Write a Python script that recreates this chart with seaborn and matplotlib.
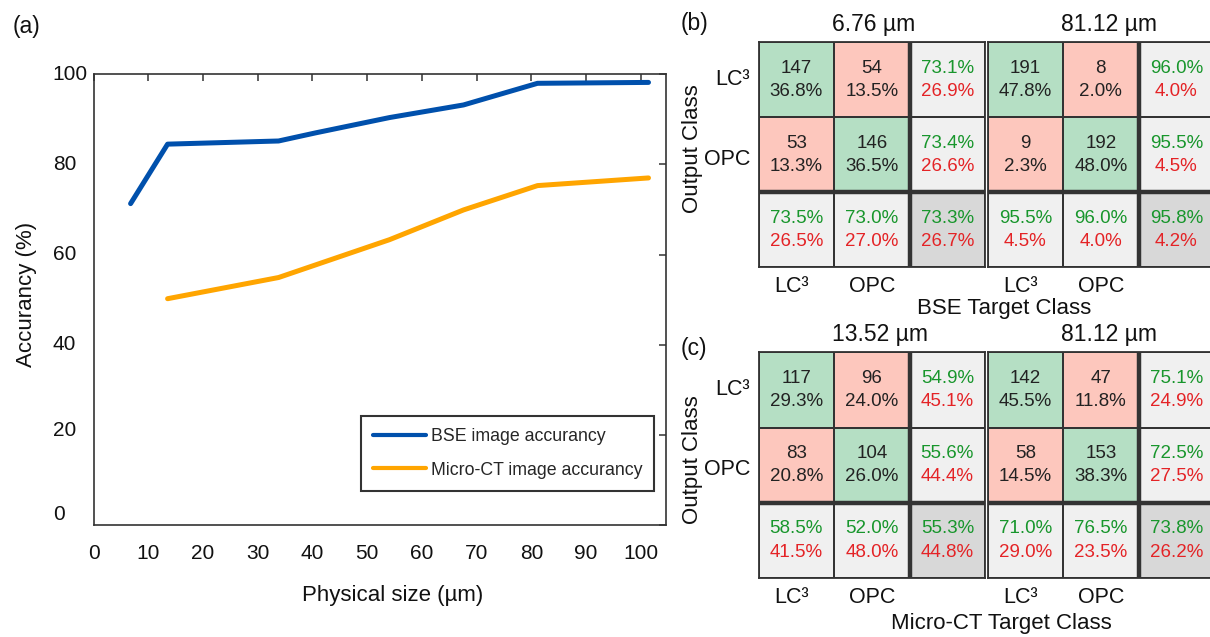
import numpy as np
import pandas as pd
import matplotlib
matplotlib.use("Agg")
import matplotlib.pyplot as plt
import matplotlib.transforms as mtransforms
import seaborn as sns
from matplotlib.colors import ListedColormap

# ---------------- data ----------------
size_bse = [6.76, 13.52, 33.8, 40.56, 54.08, 67.6, 81.12, 101.4]
acc_bse = [71.3, 84.5, 85.2, 87.0, 90.4, 93.2, 98.0, 98.2]
size_ct = [13.52, 33.8, 40.56, 54.08, 67.6, 81.12, 101.4]
acc_ct = [50.2, 54.9, 57.7, 63.3, 69.9, 75.3, 77.0]

x_ticks = [0, 10, 20, 30, 40, 50, 60, 70, 80, 90, 100]
y_ticks = [0, 20, 40, 60, 80, 100]
classes = ["LC³", "OPC"]

# confusion matrices: counts, percentages, row (precision) ok/err, col (recall) ok/err, total ok/err
bse1_title = "6.76 µm"
bse1_counts = [[147, 54], [53, 146]]
bse1_pct = [[36.8, 13.5], [13.3, 36.5]]
bse1_row_ok = [73.1, 73.4]
bse1_row_err = [26.9, 26.6]
bse1_col_ok = [73.5, 73.0]
bse1_col_err = [26.5, 27.0]
bse1_tot = [73.3, 26.7]

bse2_title = "81.12 µm"
bse2_counts = [[191, 8], [9, 192]]
bse2_pct = [[47.8, 2.0], [2.3, 48.0]]
bse2_row_ok = [96.0, 95.5]
bse2_row_err = [4.0, 4.5]
bse2_col_ok = [95.5, 96.0]
bse2_col_err = [4.5, 4.0]
bse2_tot = [95.8, 4.2]

ct1_title = "13.52 µm"
ct1_counts = [[117, 96], [83, 104]]
ct1_pct = [[29.3, 24.0], [20.8, 26.0]]
ct1_row_ok = [54.9, 55.6]
ct1_row_err = [45.1, 44.4]
ct1_col_ok = [58.5, 52.0]
ct1_col_err = [41.5, 48.0]
ct1_tot = [55.3, 44.8]

ct2_title = "81.12 µm"
ct2_counts = [[142, 47], [58, 153]]
ct2_pct = [[45.5, 11.8], [14.5, 38.3]]
ct2_row_ok = [75.1, 72.5]
ct2_row_err = [24.9, 27.5]
ct2_col_ok = [71.0, 76.5]
ct2_col_err = [29.0, 23.5]
ct2_tot = [73.8, 26.2]

# ---------------- style ----------------
sns.set_style("white")
plt.rcParams["font.family"] = ["Liberation Sans", "DejaVu Sans"]

W, H = 1210, 637
fig = plt.figure(figsize=(W / 100, H / 100), dpi=100)


def fx(px):
    return px / W


def fy(py):
    return 1 - py / H


BLUE = "#0050AC"
ORANGE = "#FFA500"
EDGE = "#333333"
TXT = "#111111"

FS_TICK = 15
FS_LABEL = 16
FS_TITLE = 16.5
FS_CELL = 13.5
FS_CLASS = 15.5
FS_LEG = 12.8

# ---------------- panel (a) ----------------
ax = fig.add_axes([fx(93.6), fy(524.9), fx(666) - fx(93.6), fy(74.3) - fy(524.9)])
df_bse = pd.DataFrame({"size": size_bse, "acc": acc_bse})
df_ct = pd.DataFrame({"size": size_ct, "acc": acc_ct})
sns.lineplot(data=df_bse, x="size", y="acc", ax=ax, color=BLUE, lw=3.6,
             label="BSE image accurancy")
sns.lineplot(data=df_ct, x="size", y="acc", ax=ax, color=ORANGE, lw=3.6,
             label="Micro-CT image accurancy")
ax.set_xlim(0, 104.6)
ax.set_ylim(0, 100)
ax.set_xticks(x_ticks)
ax.set_yticks(y_ticks)
ax.set_xticklabels([str(t) for t in x_ticks])
ax.set_yticklabels([str(t) for t in y_ticks])
ax.tick_params(axis="both", direction="in", length=5, width=1.1, color=EDGE,
               top=True, right=True, labelsize=FS_TICK, labelcolor=TXT)
ax.tick_params(axis="y", pad=29.5)
ax.tick_params(axis="x", pad=14)
# small upward nudges of the y tick labels, as in the reference rendering
y_label_nudge_px = [12, 6, 2.3, 2.3, 2.3, 1.6]
for lab, dy in zip(ax.get_yticklabels(), y_label_nudge_px):
    lab.set_horizontalalignment("left")
    lab.set_transform(lab.get_transform() +
                      mtransforms.ScaledTranslation(0, dy / 100, fig.dpi_scale_trans))
for s in ax.spines.values():
    s.set_visible(True)
    s.set_color(EDGE)
    s.set_linewidth(1.2)
ax.set_xlabel("Physical size (µm)", fontsize=FS_LABEL, color=TXT)
ax.set_ylabel("Accurancy (%)", fontsize=FS_LABEL, color=TXT)
ax.xaxis.set_label_coords(0.522, -0.1556)
ax.xaxis.label.set_va("center")
ax.yaxis.set_label_coords(-0.118, 0.511)
ax.yaxis.label.set_va("center")
leg = ax.legend(loc="lower left", bbox_to_anchor=(0.4668, 0.0757), borderaxespad=0,
                fontsize=FS_LEG, frameon=True, fancybox=False, handlelength=3.0,
                handletextpad=0.25, borderpad=0.68, labelspacing=0.95)
leg.get_frame().set_edgecolor("black")
leg.get_frame().set_linewidth(1.5)
for line in leg.get_lines():
    line.set_linewidth(3.0)
fig.text(fx(26), fy(26), "(a)", fontsize=FS_TITLE, ha="center", va="center", color=TXT)

# ---------------- confusion matrices ----------------
GREEN_C = "#B5DFC4"
PINK_C = "#FDC7BD"
LGRAY_C = "#F0F0F0"
DGRAY_C = "#D8D8D8"
TXT_G = "#18962C"
TXT_R = "#E42326"
TXT_K = "#222222"
cmap = ListedColormap([GREEN_C, PINK_C, LGRAY_C, DGRAY_C])


def draw_cm(ax, counts, pct, row_ok, row_err, col_ok, col_err, tot, title, tx):
    counts = np.asarray(counts)
    n = counts.shape[0]
    cat = np.full((n + 1, n + 1), 2)
    for i in range(n):
        for j in range(n):
            cat[i, j] = 0 if i == j else 1
    cat[n, n] = 3
    sns.heatmap(cat, ax=ax, cmap=cmap, vmin=-0.5, vmax=3.5, cbar=False,
                linewidths=1.3, linecolor=EDGE, xticklabels=False, yticklabels=False)
    ax.axhline(n, color=EDGE, lw=3.2)
    ax.axvline(n, color=EDGE, lw=3.2)
    for s in ax.spines.values():
        s.set_visible(True)
        s.set_color(EDGE)
        s.set_linewidth(1.3)
    d = 0.155
    fs = FS_CELL
    for i in range(n):
        for j in range(n):
            ax.text(j + 0.5, i + 0.5 - d, f"{counts[i, j]}", ha="center", va="center",
                    fontsize=fs, color=TXT_K)
            ax.text(j + 0.5, i + 0.5 + d, f"{pct[i][j]:.1f}%", ha="center", va="center",
                    fontsize=fs, color=TXT_K)
        ax.text(n + 0.5, i + 0.5 - d, f"{row_ok[i]:.1f}%", ha="center", va="center",
                fontsize=fs, color=TXT_G)
        ax.text(n + 0.5, i + 0.5 + d, f"{row_err[i]:.1f}%", ha="center", va="center",
                fontsize=fs, color=TXT_R)
        ax.text(i + 0.5, n + 0.5 - d, f"{col_ok[i]:.1f}%", ha="center", va="center",
                fontsize=fs, color=TXT_G)
        ax.text(i + 0.5, n + 0.5 + d, f"{col_err[i]:.1f}%", ha="center", va="center",
                fontsize=fs, color=TXT_R)
    ax.text(n + 0.5, n + 0.5 - d, f"{tot[0]:.1f}%", ha="center", va="center",
            fontsize=fs, color=TXT_G)
    ax.text(n + 0.5, n + 0.5 + d, f"{tot[1]:.1f}%", ha="center", va="center",
            fontsize=fs, color=TXT_R)
    # column labels
    for j, c in enumerate(classes):
        ax.text(j + 0.5 - (0.06 if j == 0 else 0), n + 1.25, c, ha="center", va="center",
                fontsize=FS_CLASS, color=TXT, clip_on=False)
    ax.text(tx, 1.08, title, transform=ax.transAxes, ha="center", va="center",
            fontsize=FS_TITLE, color=TXT)


def row_labels(ax):
    ax.text(-0.11, 0.5, classes[0], ha="right", va="center", fontsize=FS_CLASS, color=TXT)
    ax.text(-0.11, 1.56, classes[1], ha="right", va="center", fontsize=FS_CLASS, color=TXT)
    ax.text(-0.292, 1 - 1.42 / 3, "Output Class", transform=ax.transAxes, rotation=90,
            ha="center", va="center", fontsize=FS_LABEL, color=TXT)


mw = 226.6
ax_b1 = fig.add_axes([fx(758.5), fy(267.3), fx(mw), fy(42.3) - fy(267.3)])
draw_cm(ax_b1, bse1_counts, bse1_pct, bse1_row_ok, bse1_row_err, bse1_col_ok, bse1_col_err,
        bse1_tot, bse1_title, 0.506)
row_labels(ax_b1)
ax_b2 = fig.add_axes([fx(987.5), fy(267.3), fx(mw), fy(42.3) - fy(267.3)])
draw_cm(ax_b2, bse2_counts, bse2_pct, bse2_row_ok, bse2_row_err, bse2_col_ok, bse2_col_err,
        bse2_tot, bse2_title, 0.536)

ax_c1 = fig.add_axes([fx(758.5), fy(578.3), fx(mw), fy(352.3) - fy(578.3)])
draw_cm(ax_c1, ct1_counts, ct1_pct, ct1_row_ok, ct1_row_err, ct1_col_ok, ct1_col_err,
        ct1_tot, ct1_title, 0.536)
row_labels(ax_c1)
ax_c2 = fig.add_axes([fx(987.5), fy(578.3), fx(mw), fy(352.3) - fy(578.3)])
draw_cm(ax_c2, ct2_counts, ct2_pct, ct2_row_ok, ct2_row_err, ct2_col_ok, ct2_col_err,
        ct2_tot, ct2_title, 0.536)

fig.text(fx(1004.5), fy(308), "BSE Target Class", ha="center", va="center",
         fontsize=FS_LABEL, color=TXT)
fig.text(fx(1001), fy(623.3), "Micro-CT Target Class", ha="center", va="center",
         fontsize=FS_LABEL, color=TXT)
fig.text(fx(694), fy(23.3), "(b)", ha="center", va="center", fontsize=FS_TITLE, color=TXT)
fig.text(fx(693.4), fy(348), "(c)", ha="center", va="center", fontsize=FS_TITLE, color=TXT)

fig.savefig("out.png", dpi=100)
